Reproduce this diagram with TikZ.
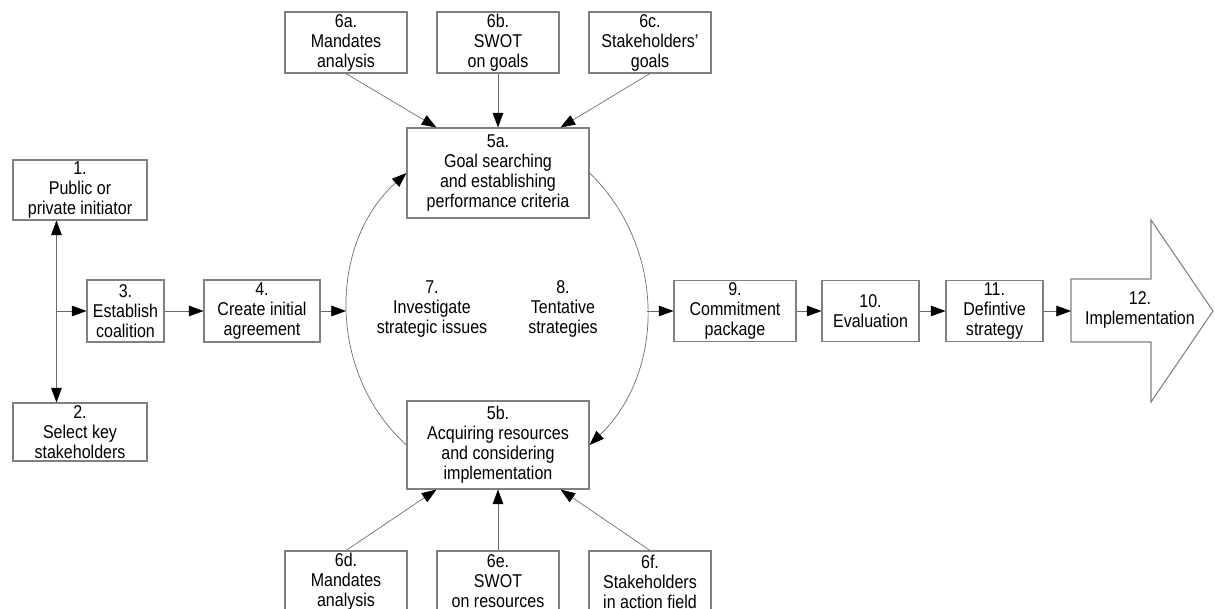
\documentclass[tikz,border=0pt]{standalone}
\usepackage{fontspec}
\setmainfont{Liberation Sans}[FakeStretch=0.865]
\usetikzlibrary{arrows.meta,calc,positioning}
\definecolor{boxgray}{RGB}{128,128,128}
\definecolor{linegray}{RGB}{105,105,105}
\newcommand{\pxu}{0.75pt}

\begin{document}
\begin{tikzpicture}[x=0.75pt, y=0.75pt, >={Triangle[length=11pt,width=8pt,color=black]}]
	\tikzstyle{stage}=[draw=boxgray, line width=0.8pt, fill=white, rectangle, align=center, inner sep=0pt, font=\fontsize{13.9}{15}\selectfont];
	\tikzstyle{side}=[stage, minimum width=122*\pxu, minimum height=61*\pxu];
	\tikzstyle{free_text}=[align=center, inner sep=0pt, font=\fontsize{13.9}{15}\selectfont];
	\tikzstyle{link}=[draw=linegray, line width=0.5pt];
	\clip (0,0) rectangle (1215,-608);
	
	\node[stage, minimum width=134*\pxu, minimum height=60*\pxu] (st_1) at (80,-190) {1.\\Public or\\private initiator};
	\node[stage, minimum width=134*\pxu, minimum height=58*\pxu] (st_2) at (80,-432) {2.\\Select key\\stakeholders};
	\node[stage, minimum width=77*\pxu, minimum height=62*\pxu] (st_3) at (125.5,-311) {3.\\Establish\\coalition};
	\node[stage, minimum width=116*\pxu, minimum height=62*\pxu] (st_4) at (262,-311) {4.\\Create initial\\agreement};
	
	\node[stage, minimum width=182*\pxu, minimum height=90*\pxu] (st_5a) at (498,-173) {5a.\\Goal searching\\and establishing\\performance criteria};
	\node[stage, minimum width=182*\pxu, minimum height=88*\pxu] (st_5b) at (498,-445) {5b.\\Acquiring resources\\and considering\\implementation};
	
	\node[side] (st_6a) at (346,-42.5) {6a.\\Mandates\\analysis};
	\node[side] (st_6b) at (498,-42.5) {6b.\\SWOT\\on goals};
	\node[side] (st_6c) at (650,-42.5) {6c.\\Stakeholders'\\goals};
	\node[side] (st_6d) at (346,-581.5) {6d.\\Mandates\\analysis};
	\node[side] (st_6e) at (498,-581.5) {6e.\\SWOT\\on resources};
	\node[side] (st_6f) at (650,-581.5) {6f.\\Stakeholders\\in action field};
	
	\node[free_text] (st_7) at (432,-309) {7.\\Investigate\\strategic issues};
	\node[free_text] (st_8) at (563,-309) {8.\\Tentative\\strategies};
	
	\node[stage, minimum width=122*\pxu, minimum height=61*\pxu] (st_9) at (735,-311) {9.\\Commitment\\package};
	\node[stage, minimum width=97*\pxu, minimum height=61*\pxu] (st_10) at (870.5,-311) {10.\\Evaluation};
	\node[stage, minimum width=97*\pxu, minimum height=61*\pxu] (st_11) at (994.5,-311) {11.\\Defintive\\strategy};
	
	\draw[draw=boxgray, line width=0.8pt, fill=white] (1071,-279) -- (1151,-279) -- (1151,-220) -- (1213,-311) -- (1151,-402) -- (1151,-342) -- (1071,-342) -- cycle;
	\node[free_text] (st_12) at (1140,-310) {12.\\Implementation};
	
	\coordinate (fork) at ($(st_1.south west)+(44,0)$);
	\coordinate (split) at (fork |- st_3.west);
	\coordinate (loop_w) at (346,-311);
	\coordinate (loop_e) at (647,-311);
	\coordinate (impl_tail) at (1071,-311);
	
	\draw[link, <->] (fork) -- ($(st_2.north west)+(44,0)$);
	\draw[link, ->] (split) -- (st_3.west);
	\draw[link, ->] (st_3.east) -- (st_4.west);
	\draw[link, ->] (st_4.east) -- (loop_w);
	\draw[link, ->] (loop_e) -- (st_9.west);
	\draw[link, ->] (st_9.east) -- (st_10.west);
	\draw[link, ->] (st_10.east) -- (st_11.west);
	\draw[link, ->] (st_11.east) -- (impl_tail);
	
	\draw[link, ->] (st_5b.west) to[bend left=48] (st_5a.west);
	\draw[link, ->] (st_5a.east) to[bend left=46] (st_5b.east);
	
	\draw[link, ->] (st_6a.south) -- ($(st_5a.north west)+(30,0)$);
	\draw[link, ->] (st_6b.south) -- (st_5a.north);
	\draw[link, ->] (st_6c.south) -- ($(st_5a.north east)+(-29,0)$);
	\draw[link, ->] (st_6d.north) -- ($(st_5b.south west)+(30,0)$);
	\draw[link, ->] (st_6e.north) -- (st_5b.south);
	\draw[link, ->] (st_6f.north) -- ($(st_5b.south east)+(-29,0)$);
	
\end{tikzpicture}
\end{document}
